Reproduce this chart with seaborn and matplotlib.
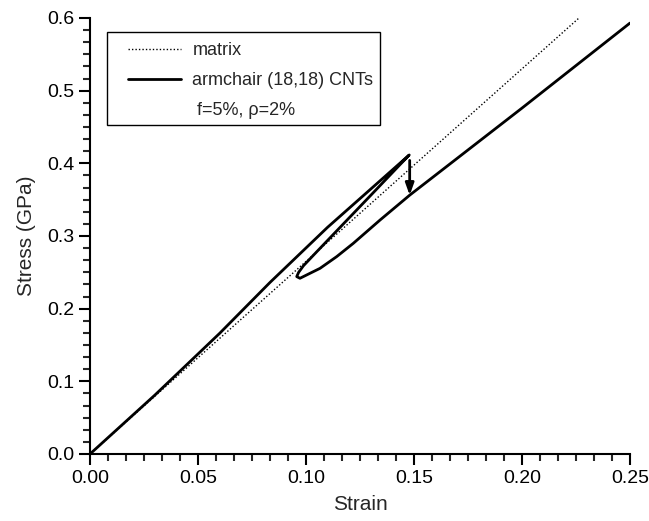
import matplotlib
matplotlib.use("Agg")
import matplotlib.pyplot as plt
from matplotlib.ticker import MultipleLocator, AutoMinorLocator
from matplotlib.lines import Line2D
from matplotlib.patches import Rectangle
import seaborn as sns
import pandas as pd

# matrix (rak linje)
matrix_strain = [0.0, 0.2264]
matrix_stress = [0.0, 0.600]

# komposit med CNT: belastning, slinga och fortsatt belastning
cnt_strain = [0.0, 0.030, 0.060, 0.0833, 0.1100, 0.1478,
              0.1373, 0.1296, 0.1142, 0.1034, 0.0988, 0.0966, 0.0957,
              0.0972, 0.1065, 0.1142, 0.1219, 0.1343, 0.1481,
              0.2000, 0.2500]
cnt_stress = [0.0, 0.081, 0.166, 0.236, 0.312, 0.4115,
              0.3788, 0.3548, 0.3070, 0.2734, 0.2590, 0.2500, 0.2441,
              0.2418, 0.2555, 0.2716, 0.2899, 0.3220, 0.3564,
              0.4760, 0.593]

# pil (lastfall)
arrow_x = 0.1480
arrow_top = 0.404
arrow_bottom = 0.356

df_m = pd.DataFrame({'Strain': matrix_strain, 'Stress': matrix_stress})
df_c = pd.DataFrame({'Strain': cnt_strain, 'Stress': cnt_stress})

sns.set_style("ticks")
plt.rcParams['font.family'] = ['Liberation Sans', 'DejaVu Sans']

fig = plt.figure(figsize=(6.49, 5.21), dpi=100)
ax = fig.add_axes([0.1387, 0.1286, 0.832, 0.8369])

sns.lineplot(data=df_m, x='Strain', y='Stress', ax=ax, sort=False, estimator=None,
             color='black', linestyle=(0, (1, 1.5)), linewidth=1.0)
sns.lineplot(data=df_c, x='Strain', y='Stress', ax=ax, sort=False, estimator=None,
             color='black', linewidth=2.0)

ax.annotate('', xy=(arrow_x, arrow_bottom), xytext=(arrow_x, arrow_top),
            arrowprops=dict(arrowstyle='-|>,head_length=0.7,head_width=0.25',
                            color='black', lw=2.0, shrinkA=0, shrinkB=0))

ax.set_xlim(0, 0.25)
ax.set_ylim(0, 0.6)
ax.xaxis.set_major_locator(MultipleLocator(0.05))
ax.yaxis.set_major_locator(MultipleLocator(0.1))
ax.xaxis.set_minor_locator(AutoMinorLocator(6))
ax.yaxis.set_minor_locator(AutoMinorLocator(6))
ax.xaxis.set_major_formatter(plt.FormatStrFormatter('%.2f'))
ax.yaxis.set_major_formatter(plt.FormatStrFormatter('%.1f'))

ax.tick_params(which='major', direction='out', length=8, width=1.5,
               labelsize=14, colors='black')
ax.tick_params(which='minor', direction='out', length=5, width=1.5)
for s in ['left', 'bottom']:
    ax.spines[s].set_linewidth(1.5)
    ax.spines[s].set_color('black')
sns.despine(ax=ax)

ax.set_xlabel('Strain', fontsize=15, labelpad=6)
ax.set_ylabel('Stress (GPa)', fontsize=15, labelpad=8)

# legendram ritad separat
ax.add_patch(Rectangle((0.0315, 0.7546), 0.5055, 0.2134, transform=ax.transAxes,
                       facecolor='white', edgecolor='black', linewidth=1.0, zorder=4))

handles = [Line2D([], [], color='black', linestyle=(0, (1, 1.5)), linewidth=1.0),
           Line2D([], [], color='black', linewidth=2.0),
           Line2D([], [], color='none')]
labels = ['matrix', 'armchair (18,18) CNTs', ' f=5%, \u03c1=2%']
leg = ax.legend(handles, labels, loc='upper left', bbox_to_anchor=(0.0704, 0.944),
                borderaxespad=0, borderpad=0, fontsize=13, handlelength=2.95,
                frameon=False, labelspacing=0.72, handletextpad=0.62)
leg.set_zorder(5)

fig.savefig('out.png', dpi=100)
